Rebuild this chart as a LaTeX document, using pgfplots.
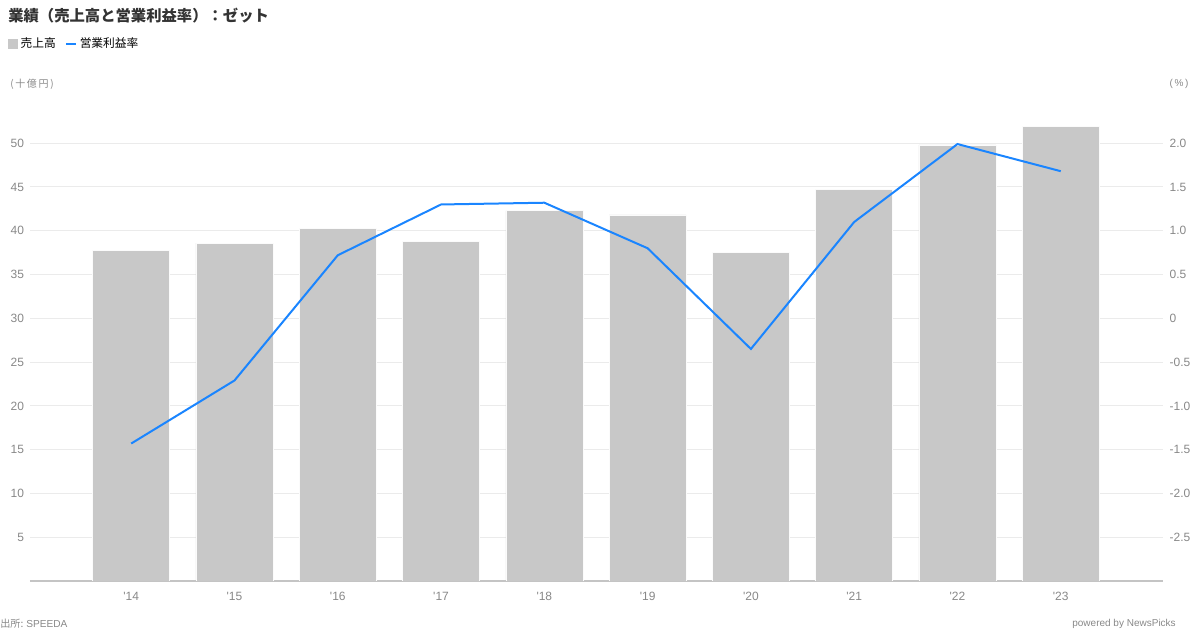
\documentclass[border=0pt]{standalone}
\usepackage{pgfplots}
\pgfplotsset{compat=1.18}
\usepackage{fontspec}
\setmainfont{Noto Sans CJK JP}
\newfontfamily\lab{Liberation Sans}
\definecolor{bargray}{HTML}{C8C8C8}
\definecolor{lineblue}{HTML}{1A85FF}
\definecolor{tickgray}{HTML}{888888}
\definecolor{gridgray}{HTML}{EBEBEB}
\definecolor{axisgray}{HTML}{C4C4C4}
\definecolor{titlecol}{HTML}{333333}
\begin{document}
\begin{tikzpicture}
\path (0,0) rectangle (900pt,-472.5pt);
\node[anchor=west, text=titlecol, font=\bfseries\fontsize{11.5}{13}\selectfont, inner sep=0pt] at (6pt,-12pt) {業績（売上高と営業利益率）：ゼット};
\node[anchor=west, text=tickgray, font=\fontsize{7.5}{9}\selectfont, inner sep=0pt] at (7.5pt,-63pt) {(\,十\,億\,円\,)};
\node[anchor=west, text=tickgray, font=\lab\fontsize{7.5}{9}\selectfont, inner sep=0pt] at (877pt,-63pt) {(\,\%\,)};
\node[anchor=west, text=tickgray, font=\fontsize{7.6}{9}\selectfont, inner sep=0pt] at (0pt,-468pt) {出所: {\lab SPEEDA}};
\node[anchor=east, text=tickgray, font=\lab\fontsize{7.5}{9}\selectfont, inner sep=0pt] at (882pt,-468pt) {powered by NewsPicks};
\begin{axis}[
  at={(22.5pt,-435.75pt)}, anchor=south west,
  scale only axis, width=849.75pt, height=361.2pt,
  xmin=-0.98, xmax=9.99, ymin=0, ymax=55,
  xtick={0,...,9},
  xticklabels={'14,'15,'16,'17,'18,'19,'20,'21,'22,'23},
  ytick={5,10,...,50},
  yticklabels={5,10,15,20,25,30,35,40,45,50},
  ymajorgrids, grid style={gridgray, line width=0.75pt},
  major tick length=0pt,
  axis x line*=bottom, axis y line*=left,
  y axis line style={draw=none},
  x axis line style={draw=axisgray, line width=1.1pt, -},
  ticklabel style={font=\lab\fontsize{9}{10}\selectfont, text=tickgray},
  xticklabel style={anchor=base, yshift=-15pt},
  yticklabel style={xshift=-1pt},
  legend style={at={(-0.0194,1.115)}, anchor=west, draw=none, fill=none,
    legend columns=2, inner sep=0pt, font=\fontsize{8.8}{10}\selectfont,
    /tikz/every even column/.append style={column sep=5pt}},
  legend cell align=left,
]
\addplot[ybar, bar width=57.75pt, fill=bargray, draw=white!92!bargray, line width=0.4pt,
  legend image code/.code={\fill[bargray] (0pt,-3.4pt) rectangle (6.8pt,3.4pt);}]
  coordinates {(0,37.8) (1,38.6) (2,40.3) (3,38.8) (4,42.3) (5,41.8) (6,37.55) (7,44.7) (8,49.8) (9,51.9)};
\addlegendentry{売上高}
\addlegendimage{legend image code/.code={\draw[lineblue,line width=1.5pt] (0pt,0pt)--(7.5pt,0pt);}}
\addlegendentry{営業利益率}
\end{axis}
\begin{axis}[
  at={(22.5pt,-435.75pt)}, anchor=south west,
  scale only axis, width=849.75pt, height=361.2pt,
  xmin=-0.98, xmax=9.99, ymin=-3, ymax=2.5,
  axis x line=none, axis y line*=right,
  y axis line style={draw=none},
  major tick length=0pt,
  ytick={-2.5,-2,-1.5,-1,-0.5,0,0.5,1,1.5,2},
  yticklabels={-2.5,-2.0,-1.5,-1.0,-0.5,0,0.5,1.0,1.5,2.0},
  ticklabel style={font=\lab\fontsize{9}{10}\selectfont, text=tickgray},
  yticklabel style={xshift=1.5pt},
]
\addplot[lineblue, line width=1.5pt, mark=none]
  coordinates {(0,-1.43) (1,-0.71) (2,0.72) (3,1.30) (4,1.32) (5,0.80) (6,-0.35) (7,1.10) (8,1.99) (9,1.68)};
\end{axis}
\end{tikzpicture}
\end{document}
